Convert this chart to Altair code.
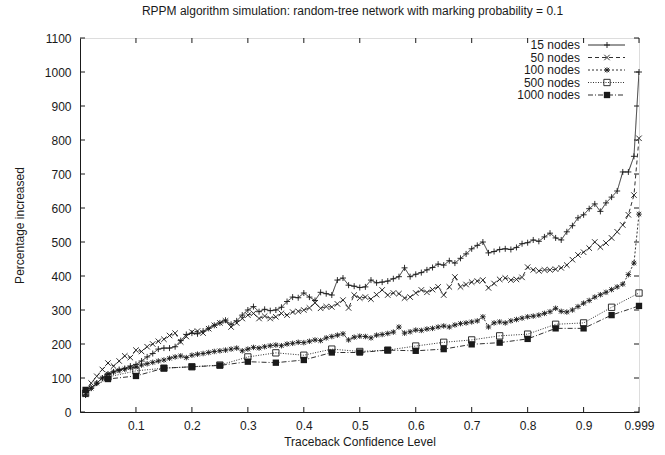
import altair as alt
import pandas as pd

# ---------------- data ----------------
series_names = ["15 nodes", "50 nodes", "100 nodes", "500 nodes", "1000 nodes"]

dense_levels = [round(0.01 * i, 2) for i in range(1, 100)] + [0.999]
sparse_levels = [0.01, 0.05, 0.1, 0.15, 0.2, 0.25, 0.3, 0.35, 0.4, 0.45, 0.5,
                 0.55, 0.6, 0.65, 0.7, 0.75, 0.8, 0.85, 0.9, 0.95, 0.999]

nodes15 = [50, 70, 85, 100, 110, 118, 125, 128, 135, 140,
           150, 162, 172, 185, 188, 188, 192, 210, 228, 232,
           230, 238, 246, 255, 262, 270, 258, 268, 285, 300,
           310, 295, 302, 298, 300, 308, 325, 338, 336, 350,
           338, 328, 352, 348, 344, 388, 394, 373, 370, 366,
           368, 388, 380, 382, 385, 392, 398, 424, 398, 405,
           410, 418, 425, 435, 432, 445, 438, 452, 465, 480,
           490, 500, 468, 472, 478, 480, 478, 484, 495, 498,
           506, 502, 515, 526, 512, 506, 530, 548, 571, 580,
           598, 612, 590, 615, 632, 650, 706, 706, 752, 1000]

nodes50 = [55, 85, 105, 125, 144, 135, 150, 165, 160, 182,
           178, 192, 200, 208, 214, 225, 232, 206, 222, 235,
           238, 232, 245, 255, 262, 268, 250, 262, 275, 285,
           290, 275, 282, 275, 280, 290, 285, 294, 296, 300,
           306, 321, 305, 310, 309, 318, 329, 306, 344, 335,
           338, 332, 345, 359, 344, 350, 348, 335, 338, 350,
           359, 352, 360, 368, 344, 368, 397, 368, 375, 382,
           385, 388, 365, 378, 390, 394, 388, 390, 396, 426,
           418, 415, 418, 418, 420, 424, 432, 448, 462, 470,
           482, 500, 485, 497, 512, 530, 550, 580, 638, 805]

nodes100 = [50, 70, 85, 100, 112, 118, 122, 126, 130, 133,
            138, 142, 146, 150, 153, 158, 162, 165, 160, 167,
            170, 172, 175, 178, 180, 182, 185, 188, 180, 185,
            190, 188, 192, 195, 197, 195, 200, 202, 205, 204,
            208, 212, 210, 218, 222, 226, 230, 212, 220, 223,
            222, 218, 226, 228, 231, 235, 250, 232, 236, 241,
            240, 244, 246, 250, 253, 250, 256, 260, 262, 265,
            268, 280, 250, 262, 265, 262, 268, 272, 276, 280,
            282, 285, 290, 295, 305, 296, 294, 300, 310, 320,
            328, 338, 345, 352, 360, 368, 376, 404, 438, 582]

nodes500 = [55, 103, 121, 129, 133, 138, 162, 174, 167, 185, 178,
            182, 194, 205, 212, 224, 229, 258, 262, 308, 350]

nodes1000 = [65, 97, 106, 129, 133, 137, 148, 145, 153, 175, 175,
             182, 180, 185, 199, 204, 215, 246, 246, 285, 312]

x_tick_values = [0.1, 0.2, 0.3, 0.4, 0.5, 0.6, 0.7, 0.8, 0.9, 0.999]
y_tick_values = [0, 100, 200, 300, 400, 500, 600, 700, 800, 900, 1000, 1100]

# ---------------- layout ----------------
W, H = 559, 374
FONT = "Liberation Sans"
FS = 12
INK = "#1a1a1a"

PLUS = "M-1,0L1,0M0,-1L0,1"
CROSS = "M-1,-1L1,1M-1,1L1,-1"
STAR = "M-1,0L1,0M0,-1L0,1M-0.8,-0.8L0.8,0.8M-0.8,0.8L0.8,-0.8"

styles = {
    "15 nodes": dict(dash=[1, 0], shape=PLUS, filled=False, size=36),
    "50 nodes": dict(dash=[4, 3], shape=CROSS, filled=False, size=30),
    "100 nodes": dict(dash=[2, 2], shape=STAR, filled=False, size=30),
    "500 nodes": dict(dash=[1, 1.5], shape="square", filled=False, size=40),
    "1000 nodes": dict(dash=[5, 2, 1, 2], shape="square", filled=True, size=40),
}

data_map = {
    "15 nodes": (dense_levels, nodes15),
    "50 nodes": (dense_levels, nodes50),
    "100 nodes": (dense_levels, nodes100),
    "500 nodes": (sparse_levels, nodes500),
    "1000 nodes": (sparse_levels, nodes1000),
}

xscale = alt.Scale(domain=[0, 0.999], nice=False, zero=False)
yscale = alt.Scale(domain=[0, 1100], nice=False)

xaxis = alt.Axis(values=x_tick_values,
                 labelExpr="datum.value > 0.95 ? '0.999' : format(datum.value, '.1f')",
                 ticks=False, grid=False,
                 domain=True, domainColor=INK, labelFont=FONT, labelFontSize=FS,
                 labelColor=INK, labelPadding=8, title="Traceback Confidence Level",
                 titleFont=FONT, titleFontSize=FS, titleFontWeight="normal",
                 titleColor=INK, titlePadding=5, labelFlush=False, labelOverlap=False)
yaxis = alt.Axis(values=y_tick_values, format="d", ticks=False, grid=False, domain=True,
                 domainColor=INK, labelFont=FONT, labelFontSize=FS, labelColor=INK,
                 labelPadding=9, title="Percentage increased", titleFont=FONT,
                 titleFontSize=FS, titleFontWeight="normal", titleColor=INK,
                 titlePadding=18, labelFlush=False, labelOverlap=False)

layers = []
for name in series_names:
    xs, ys = data_map[name]
    st = styles[name]
    df = pd.DataFrame({"level": xs, "value": ys})
    enc = dict(x=alt.X("level:Q", scale=xscale, axis=xaxis),
               y=alt.Y("value:Q", scale=yscale, axis=yaxis))
    line = alt.Chart(df).mark_line(color=INK, strokeWidth=0.9,
                                   strokeDash=st["dash"], clip=True).encode(**enc)
    pts = alt.Chart(df).mark_point(shape=st["shape"], filled=st["filled"],
                                   color=INK, size=st["size"], strokeWidth=0.9,
                                   opacity=1).encode(**enc)
    layers += [line, pts]

# inward ticks on all four sides
xt = pd.DataFrame({"t": x_tick_values})
yt = pd.DataFrame({"t": y_tick_values})
xenc = alt.X("t:Q", scale=xscale, axis=xaxis)
yenc = alt.Y("t:Q", scale=yscale, axis=yaxis)
tick_style = dict(color=INK, strokeWidth=1)
layers += [
    alt.Chart(xt).mark_rule(**tick_style).encode(x=xenc, y=alt.value(H), y2=alt.value(H - 5)),
    alt.Chart(xt).mark_rule(**tick_style).encode(x=xenc, y=alt.value(0), y2=alt.value(5)),
    alt.Chart(yt).mark_rule(**tick_style).encode(y=yenc, x=alt.value(0), x2=alt.value(5)),
    alt.Chart(yt).mark_rule(**tick_style).encode(y=yenc, x=alt.value(W), x2=alt.value(W - 5)),
]

# gnuplot-style key (label, then sample line with marker)
for i, name in enumerate(series_names):
    st = styles[name]
    ypos = 7 + 12.5 * i
    kd = pd.DataFrame({"name": [name]})
    layers.append(alt.Chart(kd).mark_text(align="right", baseline="middle",
                                          font=FONT, fontSize=FS, color=INK).encode(
        x=alt.value(500), y=alt.value(ypos), text="name:N"))
    layers.append(alt.Chart(kd).mark_rule(color=INK, strokeWidth=0.9,
                                          strokeDash=st["dash"]).encode(
        x=alt.value(508), x2=alt.value(545), y=alt.value(ypos)))
    layers.append(alt.Chart(kd).mark_point(shape=st["shape"], filled=st["filled"],
                                           color=INK, size=st["size"], strokeWidth=0.9,
                                           opacity=1).encode(
        x=alt.value(527), y=alt.value(ypos)))

chart = alt.layer(*layers).properties(
    width=W, height=H,
    title=alt.TitleParams(
        "RPPM algorithm simulation: random-tree network with marking probability = 0.1",
        font=FONT, fontSize=FS, fontWeight="normal", color=INK, offset=14, dx=-7),
    autosize=alt.AutoSizeParams(type="none"),
    padding={"left": 80, "top": 38, "right": 26, "bottom": 43},
).configure_view(stroke=INK, strokeWidth=1).configure(background="white")

chart.save("out.html", embed_options={"renderer": "svg", "actions": False})
